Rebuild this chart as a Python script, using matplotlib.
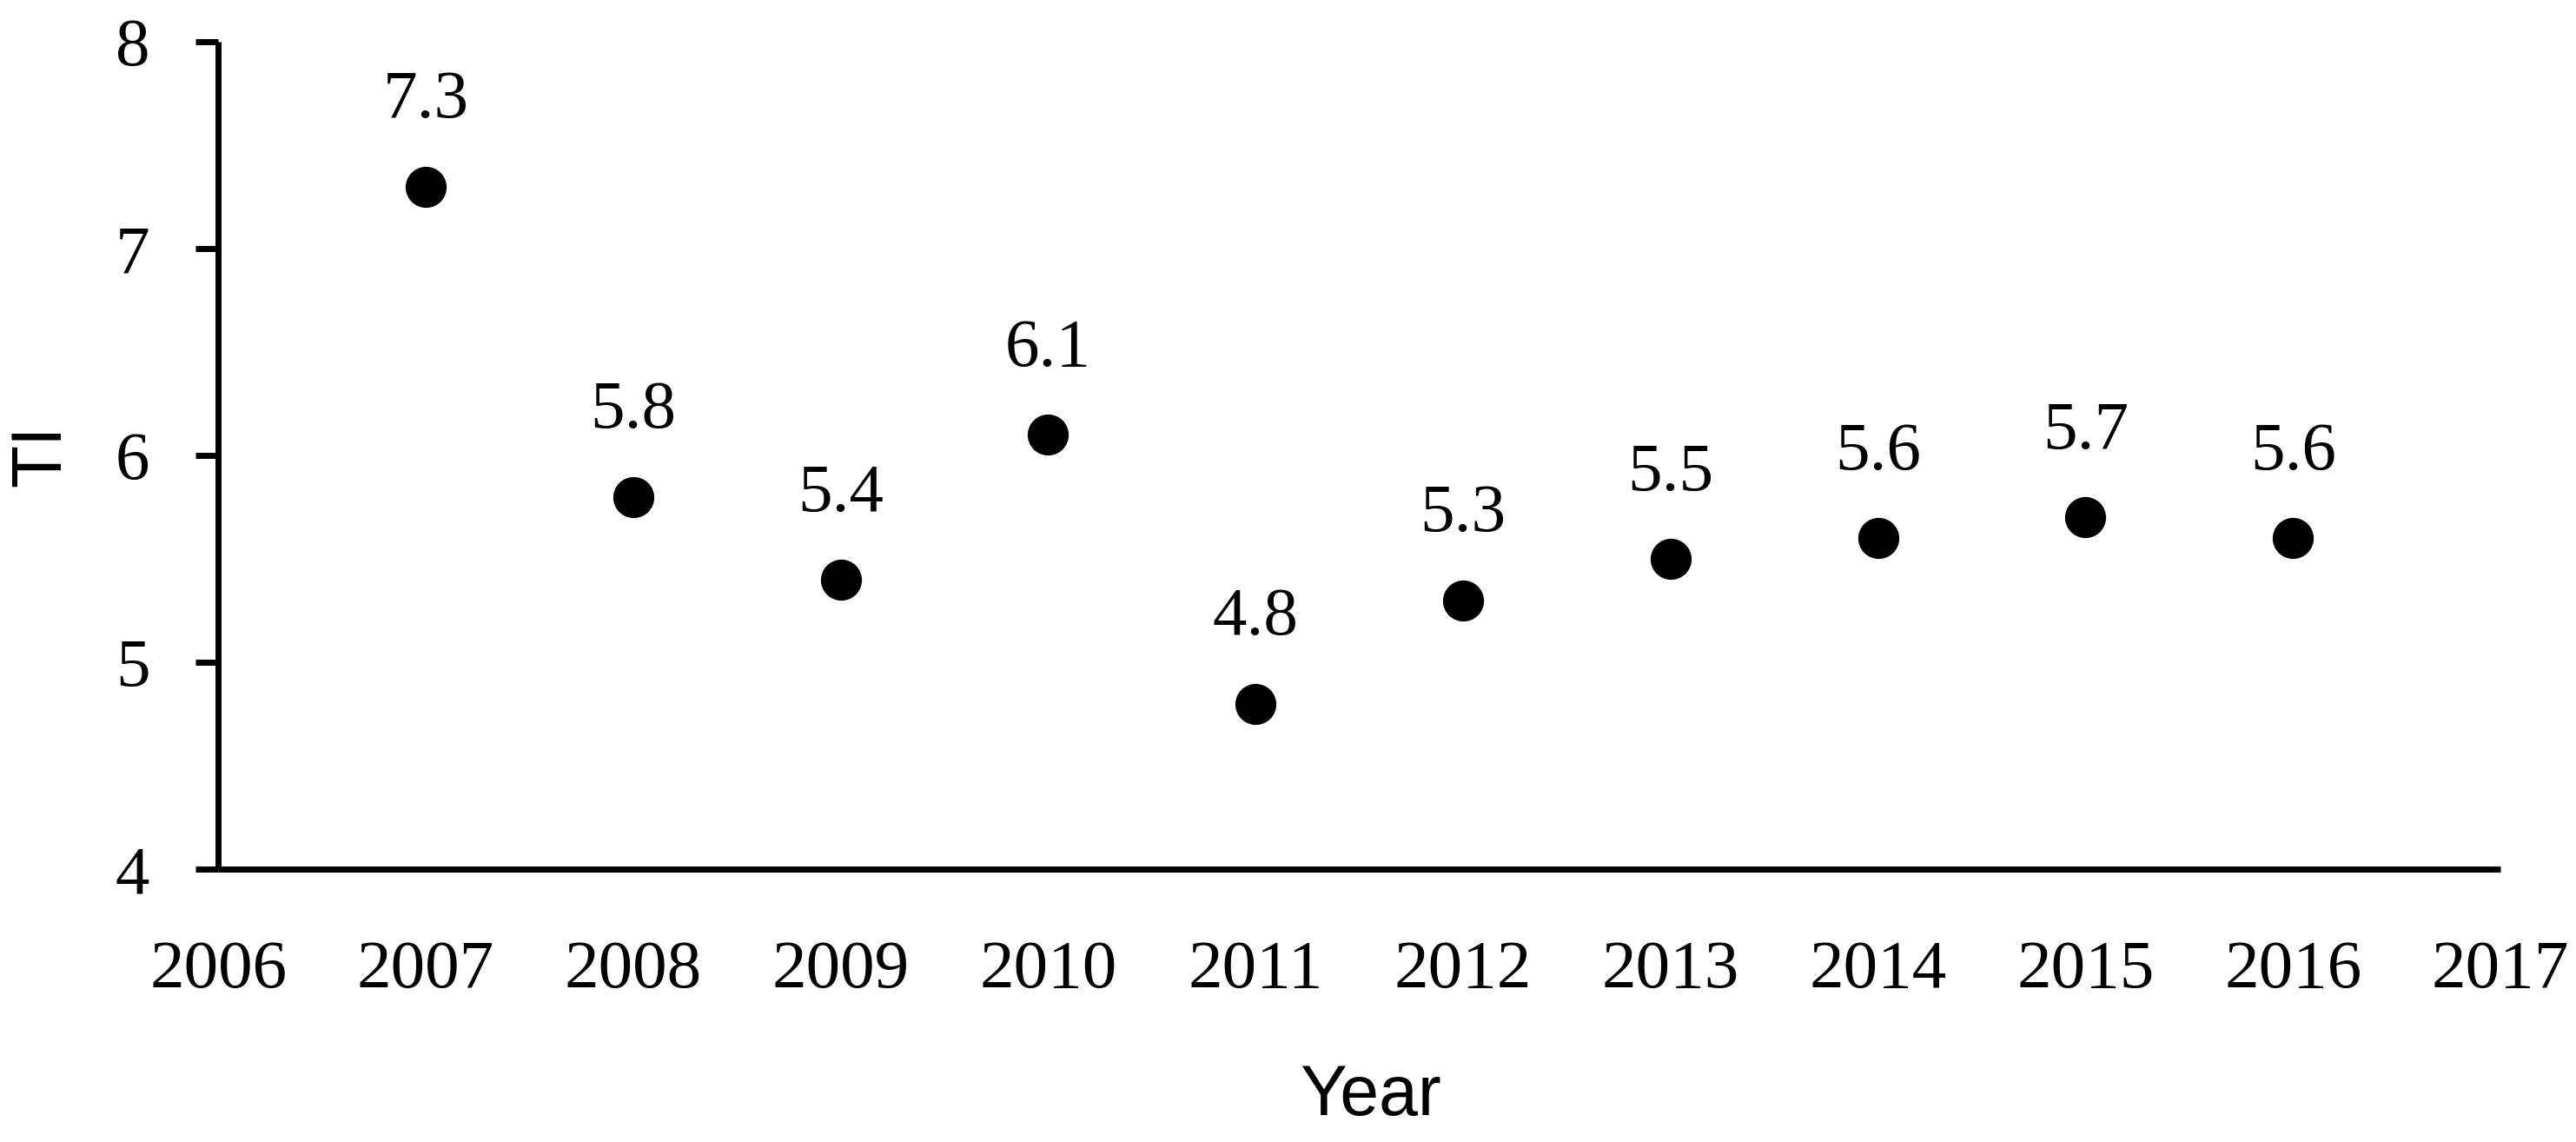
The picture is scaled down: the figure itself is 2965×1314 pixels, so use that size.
import matplotlib
matplotlib.use("Agg")
import matplotlib.pyplot as plt

# data
years = [2007, 2008, 2009, 2010, 2011, 2012, 2013, 2014, 2015, 2016]
ti = [7.3, 5.8, 5.4, 6.1, 4.8, 5.3, 5.5, 5.6, 5.7, 5.6]
xticks = list(range(2006, 2018))
yticks = [4, 5, 6, 7, 8]

serif = 'Liberation Serif'
sans = 'Liberation Sans'

fig = plt.figure(figsize=(29.65, 13.14), dpi=100)
ax = fig.add_axes([0.0847, 0.2390, 0.8860, 0.7245])

ax.plot(years, ti, 'o', color='black', markersize=33, clip_on=False)

# value labels above each dot
for x, y in zip(years, ti):
    ax.annotate('{:.1f}'.format(y), (x, y), xytext=(0, 57), textcoords='offset points',
                ha='center', va='baseline', fontsize=57, family=serif)

ax.set_xlim(2006, 2017)
ax.set_ylim(4, 8)
ax.set_xticks(xticks)
ax.set_yticks(yticks)
ax.set_xticklabels([str(t) for t in xticks], family=serif, fontsize=57)
ax.set_yticklabels([str(t) for t in yticks], family=serif, fontsize=57)

for side in ['top', 'right']:
    ax.spines[side].set_visible(False)
for side in ['left', 'bottom']:
    ax.spines[side].set_linewidth(5)
    ax.spines[side].set_capstyle('butt')

ax.tick_params(axis='y', direction='out', length=18.7, width=5, pad=38)
ax.tick_params(axis='x', length=0, pad=59)

ax.set_xlabel('Year', family=sans, fontsize=58)
ax.set_ylabel('TI', family=sans, fontsize=58)
ax.xaxis.set_label_coords(0.505, -0.275)
ax.yaxis.set_label_coords(-0.0773, 0.5)
ax.xaxis.label.set_va('center')
ax.yaxis.label.set_va('center')

fig.savefig('out.png', dpi=100)
